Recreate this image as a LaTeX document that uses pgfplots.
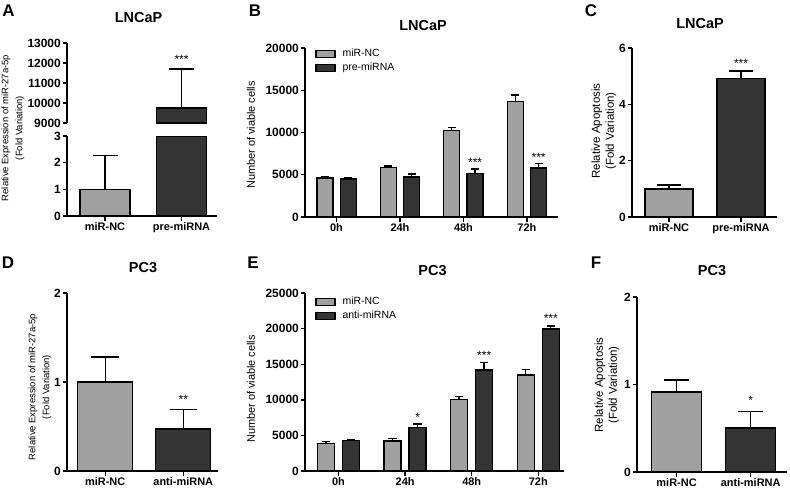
\documentclass[border=0pt]{standalone}
\usepackage{fontspec}
\setmainfont{Liberation Sans}
\usepackage{pgfplots}
\pgfplotsset{compat=1.18}
\definecolor{lg}{RGB}{160,160,160}
\definecolor{dg}{RGB}{52,52,52}
\newcommand{\fs}[1]{\fontsize{#1}{#1}\selectfont}
\tikzset{st/.style={font=\fs{12}, anchor=base, inner sep=0pt}}
\pgfplotsset{
  gp/.style={
    scale only axis,
    anchor=south west,
    axis x line=bottom, axis y line=left,
    axis line style={-, line width=1.6bp, black},
    tick align=outside,
    major tick length=4.5bp,
    every tick/.style={black, line width=1.4bp},
    /pgf/number format/assume math mode=true,
    /pgf/number format/1000 sep={},
    scaled y ticks=false,
    yticklabel style={font=\bfseries\fs{12}, inner sep=1.5bp},
    xticklabel style={font=\bfseries\fs{11}, inner sep=2bp},
    error bars/y dir=plus,
    error bars/y explicit,
    error bars/error bar style={line width=1.4bp, black},
    legend cell align=left,
    legend style={draw=none, fill=none, font=\fs{10.5}, anchor=north west, at={(0,1)}, inner sep=0pt, row sep=3bp,
      nodes={inner sep=1bp}, /tikz/every odd column/.append style={column sep=6bp}},
  },
  boxleg/.style={legend image code/.code={\draw[##1] (0bp,-3.5bp) rectangle (19bp,3.5bp);}},
  nc/.style={ybar, fill=lg, draw=black, line width=1.4bp},
  tr/.style={ybar, fill=dg, draw=black, line width=1.4bp},
  ncg/.style={fill=lg, draw=black, line width=1.4bp, boxleg},
  trg/.style={fill=dg, draw=black, line width=1.4bp, boxleg},
}
\begin{document}
\begin{tikzpicture}
\path[use as bounding box] (0,0) rectangle (790bp,-490bp);

% panel letters
\foreach \p/\x/\y in {A/8.5/11, B/255/11, C/591/10.5, D/8/262.5, E/253/262.5, F/596/262.5}
  \node[font=\bfseries\fs{17}, inner sep=0pt] at (\x bp,-\y bp) {\p};
% titles
\node[font=\bfseries\fs{14.5}, inner sep=0pt] at (138.5bp,-18bp) {LNCaP};
\node[font=\bfseries\fs{14.5}, inner sep=0pt] at (423bp,-26bp) {LNCaP};
\node[font=\bfseries\fs{14.5}, inner sep=0pt] at (700bp,-24bp) {LNCaP};
\node[font=\bfseries\fs{14.5}, inner sep=0pt] at (143bp,-268bp) {PC3};
\node[font=\bfseries\fs{14.5}, inner sep=0pt] at (432.5bp,-271bp) {PC3};
\node[font=\bfseries\fs{14.5}, inner sep=0pt] at (712bp,-271bp) {PC3};
% y labels
\node[rotate=90, align=center, font=\fontsize{9.5}{14}\selectfont, inner sep=0pt] at (13bp,-128bp) {Relative Expression of miR-27a-5p\\(Fold Variation)};
\node[rotate=90, font=\fs{11}, inner sep=0pt] at (251bp,-135bp) {Number of viable cells};
\node[rotate=90, align=center, font=\fontsize{11.5}{14}\selectfont, inner sep=0pt] at (604bp,-131bp) {Relative Apoptosis\\(Fold Variation)};
\node[rotate=90, align=center, font=\fontsize{9.5}{14}\selectfont, inner sep=0pt] at (40bp,-387bp) {Relative Expression of miR-27a-5p\\(Fold Variation)};
\node[rotate=90, font=\fs{11}, inner sep=0pt] at (251bp,-389bp) {Number of viable cells};
\node[rotate=90, align=center, font=\fontsize{11.5}{14}\selectfont, inner sep=0pt] at (607bp,-385bp) {Relative Apoptosis\\(Fold Variation)};

% ---------- Panel A (broken axis) lower ----------
\begin{axis}[gp, at={(67bp,-216bp)}, width=150bp, height=80bp,
  xmin=-0.497, xmax=1.464, ymin=0, ymax=3, ytick={0,1,2,3}, yticklabels={0,1,2,3},
  xtick={0,1}, xticklabels={miR-NC,pre-miRNA}, bar width=50bp,
  error bars/error mark options={rotate=90, mark size=12.5bp, line width=1.4bp, black}]
\addplot[nc, bar shift=0pt] coordinates {(0,1.0) +- (0,1.27)};
\addplot[tr, bar shift=0pt, error bars/y dir=none] coordinates {(1,3)};
\end{axis}
% ---------- Panel A upper ----------
\begin{axis}[gp, at={(67bp,-123bp)}, width=150bp, height=80bp,
  xmin=-0.497, xmax=1.464, ymin=9000, ymax=13000,
  ytick={9000,10000,11000,12000,13000}, yticklabels={9000,10000,11000,12000,13000},
  axis x line=none, bar width=50bp,
  error bars/error mark options={rotate=90, mark size=12.5bp, line width=1.4bp, black}]
\addplot[tr, bar shift=0pt] coordinates {(1,9750) +- (0,1950)};
\node[st] at (axis cs:1,12000) {***};
\end{axis}

% ---------- Panel B ----------
\begin{axis}[gp, at={(305bp,-217bp)}, width=253bp, height=169bp,
  ybar=7.4bp, bar width=16bp,
  xmin=-0.497, xmax=3.49, ymin=0, ymax=20000,
  ytick={0,5000,10000,15000,20000}, yticklabels={0,5000,10000,15000,20000},
  xtick={0,1,2,3}, xticklabels={0h,24h,48h,72h},
  error bars/error mark options={rotate=90, mark size=4bp, line width=1.4bp, black},
  legend style={xshift=10bp, yshift=0bp}]
\addplot[ncg] coordinates {(0,4600) +- (0,150) (1,5850) +- (0,200) (2,10210) +- (0,360) (3,13650) +- (0,790)};
\addplot[trg] coordinates {(0,4480) +- (0,130) (1,4750) +- (0,320) (2,5170) +- (0,510) (3,5800) +- (0,510)};
\legend{miR-NC, pre-miRNA}
\node[st] at (axis cs:2.1845,6000) {***};
\node[st] at (axis cs:3.1845,6544) {***};
\end{axis}

% ---------- Panel C ----------
\begin{axis}[gp, at={(632bp,-217bp)}, width=145bp, height=169bp,
  xmin=-0.514, xmax=1.5, ymin=0, ymax=6, ytick={0,2,4,6}, yticklabels={0,2,4,6},
  xtick={0,1}, xticklabels={miR-NC,pre-miRNA}, bar width=48bp,
  error bars/error mark options={rotate=90, mark size=12bp, line width=1.4bp, black}]
\addplot[nc, bar shift=0pt] coordinates {(0,1.0) +- (0,0.14)};
\addplot[tr, bar shift=0pt] coordinates {(1,4.92) +- (0,0.26)};
\node[st] at (axis cs:1,5.325) {***};
\end{axis}

% ---------- Panel D ----------
\begin{axis}[gp, at={(67bp,-471bp)}, width=151bp, height=178bp,
  xmin=-0.49, xmax=1.445, ymin=0, ymax=2, ytick={0,1,2}, yticklabels={0,1,2},
  xtick={0,1}, xticklabels={miR-NC,anti-miRNA}, bar width=55bp,
  error bars/error mark options={rotate=90, mark size=13.75bp, line width=1.4bp, black}]
\addplot[nc, bar shift=0pt] coordinates {(0,1.0) +- (0,0.28)};
\addplot[tr, bar shift=0pt] coordinates {(1,0.47) +- (0,0.22)};
\node[st] at (axis cs:1,0.753) {**};
\end{axis}

% ---------- Panel E ----------
\begin{axis}[gp, at={(305bp,-471bp)}, width=259bp, height=178bp,
  ybar=8bp, bar width=17bp,
  xmin=-0.503, xmax=3.386, ymin=0, ymax=25000,
  ytick={0,5000,10000,15000,20000,25000}, yticklabels={0,5000,10000,15000,20000,25000},
  xtick={0,1,2,3}, xticklabels={0h,24h,48h,72h},
  error bars/error mark options={rotate=90, mark size=4.25bp, line width=1.4bp, black},
  legend style={xshift=10bp, yshift=-3bp}]
\addplot[ncg] coordinates {(0,3900) +- (0,230) (1,4220) +- (0,380) (2,10070) +- (0,370) (3,13480) +- (0,800)};
\addplot[trg] coordinates {(0,4270) +- (0,190) (1,6140) +- (0,470) (2,14190) +- (0,1020) (3,19940) +- (0,430)};
\legend{miR-NC, anti-miRNA}
\node[st] at (axis cs:1.1877,7020) {*};
\node[st] at (axis cs:2.1877,15630) {***};
\node[st] at (axis cs:3.1877,20790) {***};
\end{axis}

% ---------- Panel F ----------
\begin{axis}[gp, at={(637bp,-472bp)}, width=150bp, height=175bp,
  xmin=-0.534, xmax=1.49, ymin=0, ymax=2, ytick={0,1,2}, yticklabels={0,1,2},
  xtick={0,1}, xticklabels={miR-NC,anti-miRNA}, bar width=50bp,
  error bars/error mark options={rotate=90, mark size=12.5bp, line width=1.4bp, black}]
\addplot[nc, bar shift=0pt] coordinates {(0,0.914) +- (0,0.136)};
\addplot[tr, bar shift=0pt] coordinates {(1,0.503) +- (0,0.187)};
\node[st] at (axis cs:1,0.766) {*};
\end{axis}
\end{tikzpicture}
\end{document}
